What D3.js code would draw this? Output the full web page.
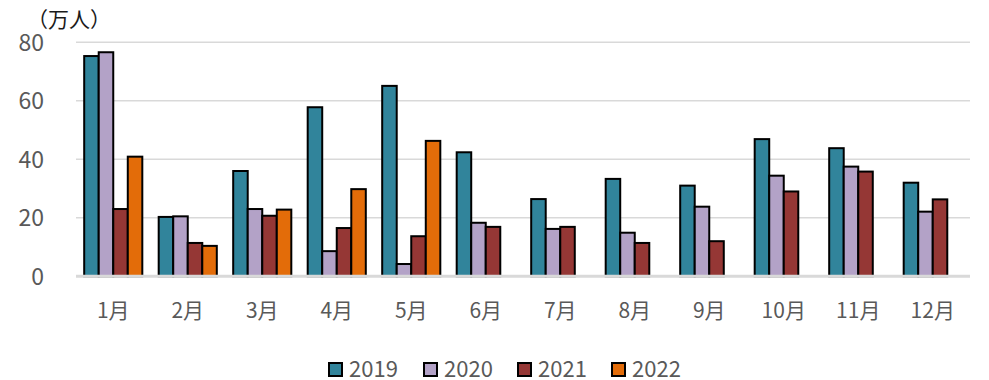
<!DOCTYPE html>
<html>
<head>
<meta charset="utf-8">
<script src="https://cdn.jsdelivr.net/npm/d3@7"></script>
<style>
  html, body { margin: 0; padding: 0; background: #fff; }
  svg { display: block; }
  text { font-family: "Noto Sans CJK JP", "Noto Sans", sans-serif; fill: #595959; }
</style>
</head>
<body>
<svg id="chart" width="989" height="380"></svg>
<script>
// Monthly visitors (10k people) by year
const months = ["1月","2月","3月","4月","5月","6月","7月","8月","9月","10月","11月","12月"];
const seriesNames = ["2019","2020","2021","2022"];
const colors = ["#31849B","#B3A2C7","#953735","#E36C09"];
const v2019 = [75.3, 20.3, 36.0, 57.8, 65.1, 42.4, 26.4, 33.3, 31.0, 46.9, 43.8, 32.0];
const v2020 = [76.6, 20.5, 23.0, 8.6, 4.2, 18.3, 16.2, 14.9, 23.8, 34.4, 37.5, 22.1];
const v2021 = [23.0, 11.4, 20.7, 16.5, 13.7, 16.9, 16.9, 11.4, 12.0, 29.0, 35.8, 26.3];
const v2022 = [40.9, 10.4, 22.8, 29.8, 46.3, null, null, null, null, null, null, null];
const yTicks = [0, 20, 40, 60, 80];
const unitLabel = "（万人）";

const seriesValues = [v2019, v2020, v2021, v2022];

const svg = d3.select("#chart");
const plotLeft = 76, plotRight = 970, plotTop = 42.3, plotBottom = 276.3;

const x0 = d3.scaleBand().domain(months).range([plotLeft, plotRight]).padding(0);
const groupW = x0.bandwidth() * 0.78;
const x1 = d3.scaleBand().domain(seriesNames)
  .range([(x0.bandwidth() - groupW) / 2, (x0.bandwidth() + groupW) / 2]);
const y = d3.scaleLinear().domain([0, 80]).range([plotBottom, plotTop]);

// gridlines
svg.append("g").selectAll("line").data(yTicks.filter(d => d > 0)).join("line")
  .attr("x1", plotLeft).attr("x2", plotRight)
  .attr("y1", d => y(d)).attr("y2", d => y(d))
  .attr("stroke", "#d9d9d9").attr("stroke-width", 1.5);

// y axis labels
const yAxis = d3.axisLeft(y).tickValues(yTicks).tickSize(0).tickPadding(0);
const yg = svg.append("g").attr("transform", `translate(44,0)`).call(yAxis);
yg.select(".domain").remove();
yg.selectAll("text").attr("font-size", 23).style("font-family", "'Noto Sans CJK JP', sans-serif").attr("fill", "#595959").attr("dy", "0.34em");

// bars
const rows = [];
months.forEach((m, i) => {
  seriesNames.forEach((s, j) => {
    const v = seriesValues[j][i];
    if (v != null) rows.push({ m, s, v, c: colors[j] });
  });
});
svg.append("g").selectAll("rect").data(rows).join("rect")
  .attr("x", d => x0(d.m) + x1(d.s))
  .attr("y", d => y(d.v))
  .attr("width", x1.bandwidth())
  .attr("height", d => y(0) - y(d.v))
  .attr("fill", d => d.c)
  .attr("stroke", "#000").attr("stroke-width", 2);

// baseline
svg.append("line").attr("x1", plotLeft).attr("x2", plotRight)
  .attr("y1", y(0)).attr("y2", y(0))
  .attr("stroke", "#d9d9d9").attr("stroke-width", 3);

// x axis labels
const xAxis = d3.axisBottom(x0).tickSize(0).tickPadding(0);
const xg = svg.append("g").attr("transform", `translate(0,311)`).call(xAxis);
xg.select(".domain").remove();
xg.selectAll("text").attr("font-size", 21).style("font-family", "'Noto Sans CJK JP', sans-serif").attr("fill", "#595959").attr("dy", "0.35em");

// unit label
svg.append("text").attr("x", 27).attr("y", 20).attr("dy", "0.35em")
  .attr("font-size", 21).style("fill", "#1a1a1a").text(unitLabel);

// legend
const legendX = [329, 424, 518, 612];
const lg = svg.append("g").selectAll("g").data(seriesNames).join("g")
  .attr("transform", (d, i) => `translate(${legendX[i]},369.5)`);
lg.append("rect").attr("x", 0).attr("y", -6.5).attr("width", 13).attr("height", 13)
  .attr("fill", (d, i) => colors[i]).attr("stroke", "#000").attr("stroke-width", 2);
lg.append("text").attr("x", 20).attr("dy", "0.34em").attr("font-size", 22).text(d => d);
</script>
</body>
</html>
